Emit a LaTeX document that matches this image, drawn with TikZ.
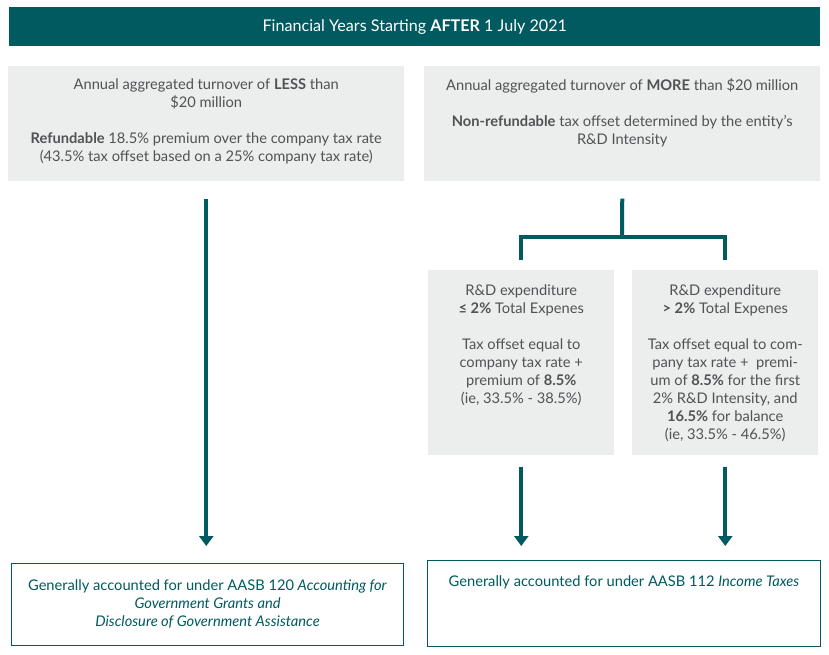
\documentclass[tikz,border=0pt]{standalone}
\usepackage{fontspec}
\setmainfont{Lato}
\usetikzlibrary{arrows.meta,positioning}
\definecolor{rdteal}{HTML}{005A5F}
\definecolor{rdgrey}{HTML}{ECEDED}
\definecolor{rdtext}{HTML}{505254}

\begin{document}
\begin{tikzpicture}[x=0.75pt,y=-0.75pt,
  greybox/.style={fill=rdgrey,draw=none,anchor=north west,inner sep=0},
  endbox/.style={draw=rdteal,line width=0.75pt,fill=white,anchor=north west,inner sep=0},
  boxtext/.style={align=center,inner sep=0,text=rdtext,font=\fontsize{11}{13.5}\selectfont},
  endtext/.style={align=center,inner sep=0,text=rdteal,font=\fontsize{11}{13.5}\selectfont},
  flow/.style={draw=rdteal,line width=3pt,-{Triangle[width=10.5pt,length=7.5pt]}},
  branch/.style={draw=rdteal,line width=3pt}]
\useasboundingbox (0,0) rectangle (829,654);

% header
\node[fill=rdteal,anchor=north west,minimum width=608.25pt,minimum height=29.25pt,inner sep=0,
  text=white,font=\fontsize{12.1}{14}\selectfont] (head) at (9,7) {Financial Years Starting \textbf{AFTER} 1 July 2021};

% turnover boxes
\node[greybox,minimum width=297pt,minimum height=86.25pt] (lessbox) at (8,66) {};
\node[boxtext,below=9.5pt of lessbox.north] (lesstext) {Annual aggregated turnover of \textbf{LESS} than\\ \$20 million\\[13.5pt]
  \textbf{Refundable} 18.5\% premium over the company tax rate\\ (43.5\% tax offset based on a 25\% company tax rate)};
\node[greybox,minimum width=297pt,minimum height=86.25pt] (morebox) at (424,66) {};
\node[boxtext,below=9.5pt of morebox.north] (moretext) {Annual aggregated turnover of \textbf{MORE} than \$20 million\\[13.5pt]
  \textbf{Non-refundable} tax offset determined by the entity's\\ R\&D Intensity};

% intensity boxes
\node[greybox,minimum width=139.5pt,minimum height=138.75pt] (lowbox) at (428,270) {};
\node[boxtext,below=11pt of lowbox.north] (lowtext) {R\&D expenditure\\ \textbf{≤ 2\%} Total Expenes\\[13.5pt]
  Tax offset equal to\\ company tax rate +\\ premium of \textbf{8.5\%}\\ (ie, 33.5\% - 38.5\%)};
\node[greybox,minimum width=139.5pt,minimum height=138.75pt] (highbox) at (632,270) {};
\node[boxtext,below=11pt of highbox.north] (hightext) {R\&D expenditure\\ \textbf{> 2\%} Total Expenes\\[13.5pt]
  Tax offset equal to com-\\ pany tax rate +\ \ premi-\\ um of \textbf{8.5\%} for the first\\ 2\% R\&D Intensity, and\\
  \textbf{16.5\%} for balance\\ (ie, 33.5\% - 46.5\%)};

% accounting boxes
\node[endbox,minimum width=294pt,minimum height=61.5pt] (grantbox) at (11,563) {};
\node[endtext] (granttext) at (grantbox.center) {Generally accounted for under AASB 120 \textit{Accounting for}\\
  \textit{Government Grants and}\\ \textit{Disclosure of Government Assistance}};
\node[endbox,minimum width=294.75pt,minimum height=64.5pt] (taxbox) at (427,560) {};
\node[endtext,below=11.5pt of taxbox.north] (taxtext) {Generally accounted for under AASB 112 \textit{Income Taxes}};

% connectors
\coordinate (fork) at (622,237);
\draw[flow] ([yshift=-12.75pt]lessbox.south) -- ([yshift=12.75pt]lessbox.south |- grantbox.north);
\draw[branch] ([yshift=-12.75pt]morebox.south) -- (fork);
\draw[branch] ([yshift=7.5pt]lowbox.north) -- (lowbox.north |- fork) -- (highbox.north |- fork) -- ([yshift=7.5pt]highbox.north);
\draw[flow] ([yshift=-8.25pt]lowbox.south) -- ([yshift=10.5pt]lowbox.south |- taxbox.north);
\draw[flow] ([yshift=-8.25pt]highbox.south) -- ([yshift=10.5pt]highbox.south |- taxbox.north);
\end{tikzpicture}
\end{document}
